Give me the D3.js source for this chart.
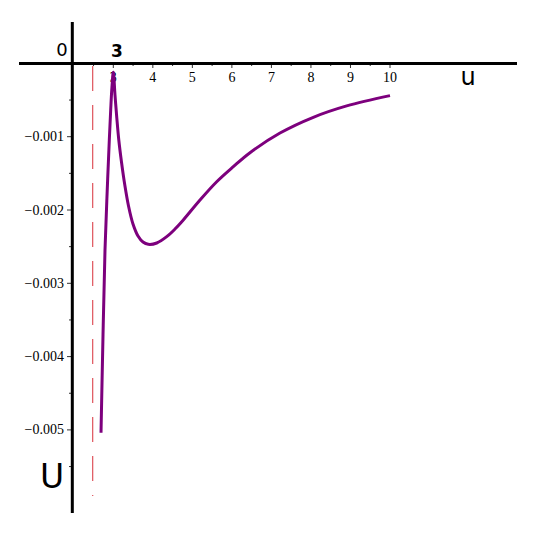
<!DOCTYPE html>
<html lang="en">
<head>
<meta charset="utf-8">
<title>U(u)</title>
<script src="https://d3js.org/d3.v7.min.js"></script>
<style>
  body{margin:0;background:#fff;}
  .tick text{font-family:"Liberation Serif","Times New Roman",serif;font-size:14px;fill:#000;}
  .lbl{font-family:"DejaVu Sans",Verdana,sans-serif;fill:#000;}
</style>
</head>
<body>
<div id="chart"></div>
<script>
// values
var uVals = [2.689, 2.74, 2.79, 2.845, 2.899, 2.934, 2.965, 3.0, 3.043, 3.089, 3.139, 3.207, 3.291, 3.385, 3.498, 3.625, 3.751, 3.885, 4.1, 4.351, 4.56, 4.771, 5.193, 5.616, 6.036, 6.458, 7.217, 8.06, 8.904, 10.0]
var UVals = [-0.00504, -0.0037, -0.002546, -0.00175, -0.001045, -0.000636, -0.00033, -0.00012, -0.000431, -0.000745, -0.001045, -0.001345, -0.001659, -0.001945, -0.002191, -0.002355, -0.002437, -0.002468, -0.00245, -0.002364, -0.00226, -0.002136, -0.001864, -0.001614, -0.001409, -0.001218, -0.00095, -0.000735, -0.00058, -0.00044]
var xTicks = [3, 4, 5, 6, 7, 8, 9, 10]
var yTicks = [-0.001, -0.002, -0.003, -0.004, -0.005]
var asymptote = 2.48
var yAxisAt = 1.963

var w = 534, h = 533
var x = d3.scaleLinear().domain([3, 10]).range([113.3, 390])
var y = d3.scaleLinear().domain([0, -0.001]).range([63.4, 136.7])

var svg = d3.select("#chart").append("svg").attr("width", w).attr("height", h)

// dashed asymptote
svg.append("line")
  .attr("x1", x(asymptote)).attr("x2", x(asymptote))
  .attr("y1", 66).attr("y2", 496)
  .attr("stroke", "#d8303a").attr("stroke-width", 1)
  .attr("stroke-dasharray", "25,14")

// x axis ticks + labels
var xMinor = d3.range(2.5, 10.01, 0.5)
svg.selectAll(".xminor").data(xMinor).enter().append("line")
  .attr("x1", function(d){ return x(d) }).attr("x2", function(d){ return x(d) })
  .attr("y1", 63).attr("y2", function(d){ return d % 1 == 0 ? 68 : 66 })
  .attr("stroke", "#333").attr("stroke-width", 1)
var xg = svg.append("g").attr("class", "tick")
xg.selectAll("text").data(xTicks).enter().append("text")
  .attr("x", function(d){ return x(d) }).attr("y", 82)
  .attr("text-anchor", "middle")
  .text(function(d){ return d })

// y axis ticks + labels
var yMinor = d3.range(-0.0055, 0.0001, 0.0005)
svg.selectAll(".yminor").data(yMinor).enter().append("line")
  .attr("x1", function(d){ return Math.abs(Math.round(d*2000)) % 2 == 0 ? 67 : 69 }).attr("x2", 72)
  .attr("y1", function(d){ return y(d) }).attr("y2", function(d){ return y(d) })
  .attr("stroke", "#333").attr("stroke-width", 1)
var yg = svg.append("g").attr("class", "tick")
yg.selectAll("text").data(yTicks).enter().append("text")
  .attr("x", 64).attr("y", function(d){ return y(d) + 4.5 })
  .attr("text-anchor", "end")
  .text(function(d){ return "\u2212" + d3.format(".3f")(-d) })

// main axes
svg.append("line").attr("x1", 19).attr("x2", 517).attr("y1", y(0)).attr("y2", y(0))
  .attr("stroke", "#000").attr("stroke-width", 3)
svg.append("line").attr("x1", x(yAxisAt)).attr("x2", x(yAxisAt)).attr("y1", 22).attr("y2", 513)
  .attr("stroke", "#000").attr("stroke-width", 3)

// curve
var pts = uVals.map(function(d, i){ return [d, UVals[i]] })
var line = d3.line()
  .x(function(d){ return x(d[0]) })
  .y(function(d){ return y(d[1]) })
  .curve(d3.curveCatmullRom.alpha(0.5))
svg.append("path").datum(pts)
  .attr("d", line)
  .attr("fill", "none")
  .attr("stroke", "#7d007d")
  .attr("stroke-width", 3)
  .attr("stroke-linejoin", "round")

// labels
svg.append("text").attr("class", "lbl").attr("x", 62).attr("y", 56)
  .attr("text-anchor", "middle").attr("font-size", 18).text("0")
svg.append("text").attr("class", "lbl").attr("x", 117).attr("y", 57)
  .attr("text-anchor", "middle").attr("font-size", 17).attr("font-weight", "bold").text("3")
svg.append("text").attr("class", "lbl").attr("x", 468).attr("y", 85)
  .attr("text-anchor", "middle").attr("font-size", 24).text("u")
svg.append("text").attr("class", "lbl").attr("x", 52).attr("y", 488)
  .attr("text-anchor", "middle").attr("font-size", 33).text("U")
</script>
</body>
</html>
